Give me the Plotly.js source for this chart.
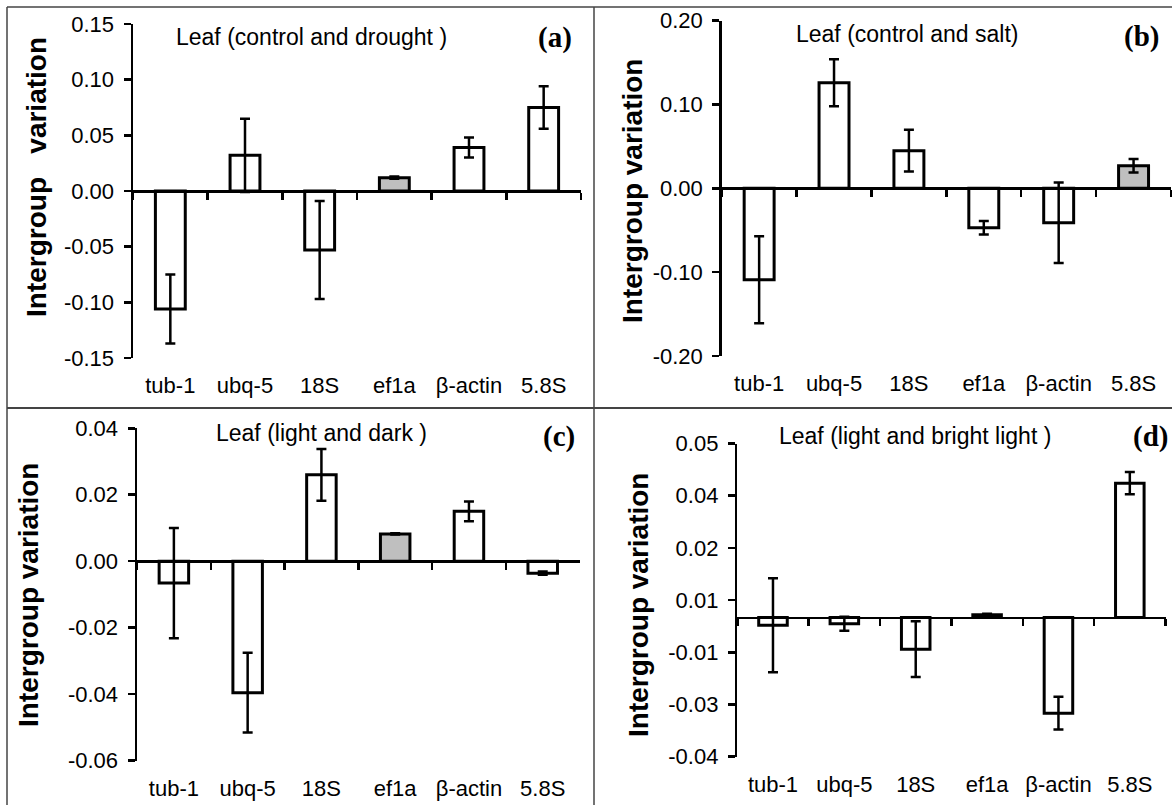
<!DOCTYPE html>
<html>
<head>
<meta charset="utf-8">
<script src="https://cdn.plot.ly/plotly-3.0.1.min.js"></script>
<style>html,body{margin:0;padding:0;background:#fff;}#chart{width:1172px;height:805px;}</style>
</head>
<body>
<div id="chart"></div>
<script>
// ---- data ----
const categories = ['tub-1', 'ubq-5', '18S', 'ef1a', 'β-actin', '5.8S'];

const valsA = [-0.106, 0.032, -0.053, 0.012, 0.039, 0.075];
const errA  = [0.031, 0.033, 0.044, 0.001, 0.009, 0.019];
const fillA = ['white', 'white', 'white', '#bfbfbf', 'white', 'white'];

const valsB = [-0.109, 0.126, 0.045, -0.047, -0.041, 0.027];
const errB  = [0.052, 0.028, 0.025, 0.008, 0.048, 0.008];
const fillB = ['white', 'white', 'white', 'white', 'white', '#bfbfbf'];

const valsC = [-0.0066, -0.0396, 0.026, 0.0082, 0.015, -0.0036];
const errC  = [0.0166, 0.012, 0.0078, 0.0002, 0.003, 0.0005];
const fillC = ['white', 'white', 'white', '#bfbfbf', 'white', 'white'];

const valsD = [-0.0022, -0.0018, -0.0091, 0.0008, -0.0275, 0.0386];
const errD  = [0.0135, 0.002, 0.008, 0.0003, 0.0047, 0.0032];
const fillD = ['white', 'white', 'white', '#bfbfbf', 'white', 'white'];

const tickValsA = [-0.15, -0.10, -0.05, 0, 0.05, 0.10, 0.15];
const tickTextA = ['-0.15', '-0.10', '-0.05', '0.00', '0.05', '0.10', '0.15'];
const tickValsB = [-0.2, -0.1, 0, 0.1, 0.2];
const tickTextB = ['-0.20', '-0.10', '0.00', '0.10', '0.20'];
const tickValsC = [-0.06, -0.04, -0.02, 0, 0.02, 0.04];
const tickTextC = ['-0.06', '-0.04', '-0.02', '0.00', '0.02', '0.04'];
const tickValsD = [-0.04, -0.025, -0.01, 0.005, 0.02, 0.035, 0.05];
const tickTextD = ['-0.04', '-0.03', '-0.01', '0.01', '0.02', '0.04', '0.05'];

const titles = ['Leaf (control and drought )', 'Leaf (control and salt)', 'Leaf (light and dark )', 'Leaf (light and bright light )'];
const letters = ['(a)', '(b)', '(c)', '(d)'];
const yTitles = ['Intergroup   variation', 'Intergroup variation', 'Intergroup variation', 'Intergroup variation'];

// ---- layout geometry (pixels) ----
const W = 1172, H = 805;
const px = v => v / W;
const py = v => 1 - v / H;
const FONT = 'Liberation Sans, Arial, sans-serif';

const panels = [
  {vals: valsA, err: errA, fill: fillA, tv: tickValsA, tt: tickTextA, range: [-0.15, 0.15],
   xd: [133, 581], yd: [24, 358], title: [311, 37], letter: [555, 37], ytitle: [36, 177]},
  {vals: valsB, err: errB, fill: fillB, tv: tickValsB, tt: tickTextB, range: [-0.2, 0.2],
   xd: [721.7, 1171], yd: [20.7, 356], title: [907, 34], letter: [1141, 36], ytitle: [632, 191]},
  {vals: valsC, err: errC, fill: fillC, tv: tickValsC, tt: tickTextC, range: [-0.06, 0.04],
   xd: [137, 579.6], yd: [428.3, 760.5], title: [321, 433], letter: [559, 437], ytitle: [28, 595]},
  {vals: valsD, err: errD, fill: fillD, tv: tickValsD, tt: tickTextD, range: [-0.04, 0.05],
   xd: [737.3, 1165.5], yd: [443.5, 756.7], title: [915, 436], letter: [1150, 436], ytitle: [638, 605]}
];

const data = [];
const layout = {
  width: W, height: H,
  margin: {l: 0, r: 0, t: 0, b: 0},
  paper_bgcolor: 'white', plot_bgcolor: 'rgba(0,0,0,0)',
  showlegend: false,
  font: {family: FONT, size: 22, color: '#000'},
  annotations: [],
  shapes: []
};

panels.forEach((p, i) => {
  const xa = 2 * i + 1, xl = 2 * i + 2, ya = i + 1;
  const xaName = xa === 1 ? 'x' : 'x' + xa;
  const xlName = 'x' + xl;
  const yaName = ya === 1 ? 'y' : 'y' + ya;
  const xdom = [px(p.xd[0]), px(p.xd[1])];
  const ydom = [py(p.yd[1]), py(p.yd[0])];
  const zeroPos = ydom[0] + (0 - p.range[0]) / (p.range[1] - p.range[0]) * (ydom[1] - ydom[0]);

  data.push({
    type: 'bar', x: categories, y: p.vals,
    xaxis: xaName, yaxis: yaName,
    width: 0.4,
    marker: {color: p.fill, line: {color: '#000', width: 3}},
    error_y: {type: 'data', array: p.err, visible: true, color: '#000', thickness: 2.5, width: 5},
    hoverinfo: 'x+y'
  });
  // invisible carrier so the bottom label axis is drawn
  data.push({
    type: 'scatter', mode: 'markers', x: categories, y: p.vals,
    xaxis: xlName, yaxis: yaName,
    marker: {size: 1, opacity: 0}, hoverinfo: 'skip'
  });

  layout['xaxis' + (xa === 1 ? '' : xa)] = {
    domain: xdom, anchor: 'free', position: zeroPos,
    type: 'category', categoryorder: 'array', categoryarray: categories,
    range: [-0.5, categories.length - 0.5],
    tickson: 'boundaries', ticks: 'outside', ticklen: 7, tickwidth: 2.5, tickcolor: '#000',
    showticklabels: false, showline: true, linecolor: '#000', linewidth: 2.5,
    showgrid: false, zeroline: false, fixedrange: true
  };
  layout['xaxis' + xl] = {
    overlaying: xaName, anchor: yaName, side: 'bottom',
    type: 'category', categoryorder: 'array', categoryarray: categories,
    range: [-0.5, categories.length - 0.5],
    ticks: '', showline: false, showgrid: false, zeroline: false,
    ticklabelstandoff: 12,
    tickfont: {family: FONT, size: 22, color: '#000'}, fixedrange: true
  };
  layout['yaxis' + (ya === 1 ? '' : ya)] = {
    domain: ydom, anchor: xaName, range: p.range,
    tickmode: 'array', tickvals: p.tv, ticktext: p.tt,
    ticks: 'outside', ticklen: 7, tickwidth: 2.5, tickcolor: '#000',
    showline: true, linecolor: '#000', linewidth: 2.5,
    showgrid: false, zeroline: false, ticklabelstandoff: 5,
    tickfont: {family: FONT, size: 22, color: '#000'}, fixedrange: true
  };

  layout.annotations.push({
    xref: 'paper', yref: 'paper', x: px(p.title[0]), y: py(p.title[1]),
    xanchor: 'center', yanchor: 'middle', showarrow: false,
    text: titles[i], font: {family: FONT, size: 23, color: '#000'}
  });
  layout.annotations.push({
    xref: 'paper', yref: 'paper', x: px(p.letter[0]), y: py(p.letter[1]),
    xanchor: 'center', yanchor: 'middle', showarrow: false,
    text: '<b>' + letters[i] + '</b>',
    font: {family: 'Liberation Serif, Times New Roman, serif', size: 29, color: '#000'}
  });
  layout.annotations.push({
    xref: 'paper', yref: 'paper', x: px(p.ytitle[0]), y: py(p.ytitle[1]),
    xanchor: 'center', yanchor: 'middle', showarrow: false, textangle: -90,
    text: '<b>' + yTitles[i] + '</b>',
    font: {family: FONT, size: 28, color: '#000'}
  });
});

// panel frames
const frame = (x0, y0, x1, y1, w) => ({
  type: 'line', xref: 'paper', yref: 'paper',
  x0: px(x0), y0: py(y0), x1: px(x1), y1: py(y1),
  line: {color: '#444', width: w}
});
layout.shapes.push(frame(7, 7, 1172, 7, 1.5));
layout.shapes.push(frame(7, 7, 7, 805, 1.5));
layout.shapes.push(frame(594, 7, 594, 805, 1.5));
layout.shapes.push(frame(7, 408, 1172, 408, 2));

Plotly.newPlot('chart', data, layout, {displayModeBar: false, staticPlot: true});
</script>
</body>
</html>
